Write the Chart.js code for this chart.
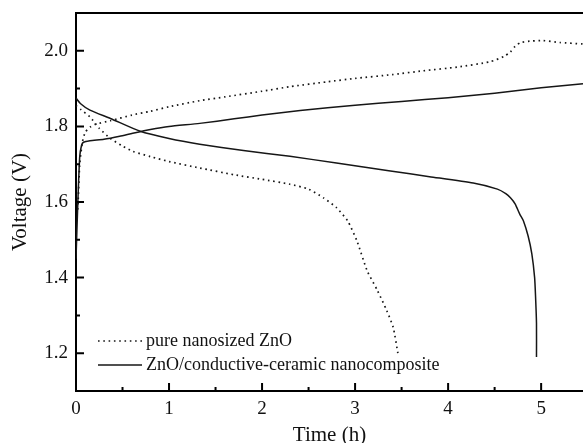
<!DOCTYPE html>
<html>
<head>
<meta charset="utf-8">
<script src="https://cdn.jsdelivr.net/npm/chart.js@4/dist/chart.umd.min.js"></script>
<style>
html,body{margin:0;padding:0;background:#fff;}
#wrap{width:583px;height:443px;position:relative;}
</style>
</head>
<body>
<div id="wrap"><canvas id="c" width="583" height="443"></canvas></div>
<script>
// ---- data ----
const legendLabels = ["pure nanosized ZnO", "ZnO/conductive-ceramic nanocomposite"];

const tPureCharge = [0.02,0.04,0.07,0.10,0.15,0.20,0.37,0.60,0.80,1.00,1.33,1.60,2.00,2.30,2.70,3.00,3.40,3.73,4.10,4.45,4.60,4.67,4.72,4.78,4.90,5.02,5.20,5.45];
const vPureCharge = [1.58,1.70,1.76,1.785,1.798,1.805,1.815,1.83,1.84,1.852,1.868,1.878,1.893,1.905,1.918,1.927,1.937,1.947,1.957,1.971,1.985,1.997,2.012,2.022,2.026,2.027,2.022,2.018];

const tPureDischarge = [0,0.05,0.15,0.25,0.37,0.50,0.61,0.80,1.00,1.33,1.70,2.00,2.30,2.50,2.66,2.80,2.92,3.02,3.13,3.24,3.34,3.41,3.46];
const vPureDischarge = [1.855,1.845,1.825,1.795,1.768,1.748,1.734,1.72,1.707,1.69,1.672,1.66,1.647,1.634,1.611,1.585,1.55,1.497,1.418,1.366,1.313,1.268,1.20];

const tCompCharge = [0,0.02,0.04,0.06,0.08,0.15,0.30,0.47,0.61,0.80,1.00,1.33,1.70,2.00,2.41,3.00,3.50,4.00,4.50,5.00,5.45];
const vCompCharge = [1.45,1.60,1.72,1.75,1.758,1.762,1.766,1.774,1.782,1.792,1.80,1.808,1.82,1.83,1.842,1.856,1.866,1.876,1.888,1.902,1.913];

const tCompDischarge = [0,0.05,0.15,0.37,0.69,1.00,1.33,1.80,2.30,2.80,3.38,3.80,4.27,4.53,4.62,4.67,4.72,4.77,4.81,4.86,4.90,4.93,4.94,4.95,4.95];
const vCompDischarge = [1.875,1.86,1.843,1.821,1.787,1.768,1.753,1.736,1.721,1.703,1.682,1.667,1.650,1.634,1.622,1.611,1.595,1.568,1.55,1.51,1.463,1.40,1.35,1.28,1.19];

const xTickValues = [0,1,2,3,4,5];
const xMinorValues = [0.5,1.5,2.5,3.5,4.5];
const yTickValues = [1.2,1.4,1.6,1.8,2.0];
const yMinorValues = [1.3,1.5,1.7,1.9];

const xTitle = "Time (h)";
const yTitle = "Voltage (V)";

// ---- build ----
const pts = (t, v) => t.map((x, i) => ({x: x, y: v[i]}));
const FONT = "'Liberation Serif','Times New Roman',serif";
const lineCol = "#161616";

const dotted = {borderColor: lineCol, borderWidth: 1.7, borderDash: [1.6, 3.7], pointRadius: 0, tension: 0.2, fill: false};
const solid = {borderColor: lineCol, borderWidth: 1.5, pointRadius: 0, tension: 0.2, fill: false};

const frameAndLegend = {
  id: 'frameAndLegend',
  afterDraw(chart) {
    const ctx = chart.ctx, a = chart.chartArea;
    const xs = chart.scales.x, ys = chart.scales.y;
    ctx.save();
    ctx.strokeStyle = '#000';
    ctx.lineWidth = 2;
    ctx.beginPath();
    ctx.moveTo(a.left - 1, a.top); ctx.lineTo(chart.width, a.top);
    ctx.stroke();
    ctx.lineWidth = 2;
    ctx.beginPath();
    xTickValues.forEach(v => { const p = xs.getPixelForValue(v); if (v > 0) { ctx.moveTo(p, a.bottom); ctx.lineTo(p, a.bottom - 8); } });
    xMinorValues.forEach(v => { const p = xs.getPixelForValue(v); ctx.moveTo(p, a.bottom); ctx.lineTo(p, a.bottom - 4); });
    yTickValues.forEach(v => { const p = ys.getPixelForValue(v); ctx.moveTo(a.left, p); ctx.lineTo(a.left + 8, p); });
    yMinorValues.forEach(v => { const p = ys.getPixelForValue(v); ctx.moveTo(a.left, p); ctx.lineTo(a.left + 4, p); });
    ctx.stroke();

    // legend
    const lx0 = a.left + 22, lx1 = a.left + 66, tx = a.left + 70;
    const rows = [{y: 341, ds: dotted, label: legendLabels[0]}, {y: 365, ds: solid, label: legendLabels[1]}];
    ctx.font = "18px " + FONT;
    ctx.textBaseline = 'middle';
    ctx.textAlign = 'left';
    rows.forEach(r => {
      ctx.strokeStyle = lineCol;
      ctx.lineWidth = r.ds.borderWidth;
      ctx.setLineDash(r.ds.borderDash || []);
      ctx.beginPath(); ctx.moveTo(lx0, r.y); ctx.lineTo(lx1, r.y); ctx.stroke();
      ctx.setLineDash([]);
      ctx.fillStyle = '#111';
      ctx.fillText(r.label, tx, r.y);
    });
    ctx.restore();
  }
};

new Chart(document.getElementById('c'), {
  type: 'line',
  data: {
    datasets: [
      Object.assign({label: legendLabels[0] + ' charge', data: pts(tPureCharge, vPureCharge)}, dotted),
      Object.assign({label: legendLabels[0] + ' discharge', data: pts(tPureDischarge, vPureDischarge)}, dotted),
      Object.assign({label: legendLabels[1] + ' charge', data: pts(tCompCharge, vCompCharge)}, solid),
      Object.assign({label: legendLabels[1] + ' discharge', data: pts(tCompDischarge, vCompDischarge)}, solid)
    ]
  },
  options: {
    responsive: false,
    animation: false,
    devicePixelRatio: 1,
    layout: {padding: {top: 13, right: 0, left: 0, bottom: 0}},
    plugins: {legend: {display: false}, tooltip: {enabled: false}},
    scales: {
      x: {
        type: 'linear', min: 0, max: 5.45,
        afterFit(s) { s.height = 52; s.paddingLeft = 0; s.paddingRight = 0; },
        afterBuildTicks(s) { s.ticks = xTickValues.map(v => ({value: v})); },
        grid: {display: false, drawTicks: false},
        border: {display: true, color: '#000', width: 2},
        ticks: {color: '#111', font: {family: FONT, size: 19}, padding: 7, maxRotation: 0, callback: v => String(v)},
        title: {display: true, text: xTitle, color: '#111', font: {family: FONT, size: 21, lineHeight: 1}, padding: {top: 0, bottom: -3}}
      },
      y: {
        type: 'linear', min: 1.1, max: 2.1,
        afterFit(s) { s.width = 76; s.paddingTop = 0; s.paddingBottom = 0; },
        afterBuildTicks(s) { s.ticks = yTickValues.map(v => ({value: v})); },
        grid: {display: false, drawTicks: false},
        border: {display: true, color: '#000', width: 2},
        ticks: {color: '#111', font: {family: FONT, size: 19}, padding: 8, callback: v => Number(v).toFixed(1)},
        title: {display: true, text: yTitle, color: '#111', font: {family: FONT, size: 21, lineHeight: 1}, padding: {top: 10, bottom: 0}}
      }
    }
  },
  plugins: [frameAndLegend]
});
</script>
</body>
</html>
